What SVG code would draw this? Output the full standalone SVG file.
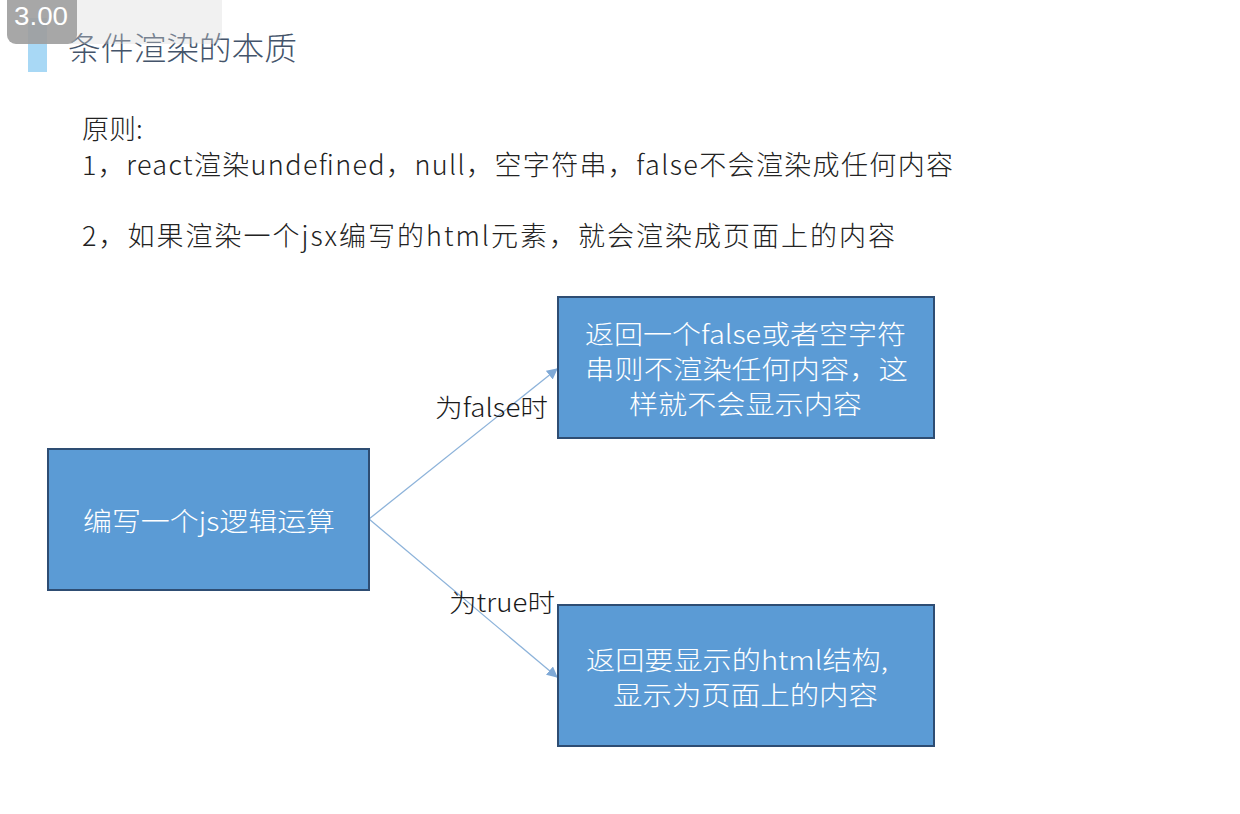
<svg xmlns="http://www.w3.org/2000/svg" width="1240" height="814" viewBox="0 0 1240 814">
  <style>
    .cn { font-family: "Noto Sans CJK SC", "Noto Sans", sans-serif; font-weight: 300; }
    .body { font-size: 27px; fill: #222222; }
    .box { fill: #5b9bd5; stroke: #2e4d73; stroke-width: 2; }
    .boxtext { font-size: 26px; fill: #ffffff; }
    .label { font-size: 25px; fill: #1a1a1a; }
    .link { stroke: #8db3da; stroke-width: 1.3; fill: none; }
  </style>
  <defs>
    <marker id="arrow" viewBox="0 0 10 10" refX="9" refY="5" markerWidth="11" markerHeight="11" markerUnits="userSpaceOnUse" orient="auto">
      <path d="M0,0 L10,5 L0,10 z" fill="#7fa9d6"/>
    </marker>
  </defs>

  <rect width="1240" height="814" fill="#ffffff"/>

  <!-- heading bar and title -->
  <rect x="28" y="18" width="19" height="54" fill="#a8d8f5"/>
  <text class="cn" x="68" y="60" font-size="32" fill="#44546a" textLength="229" lengthAdjust="spacingAndGlyphs">条件渲染的本质</text>

  <!-- speed badge -->
  <rect x="7" y="-8" width="215" height="52" rx="9" fill="#d8d8d8" opacity="0.35"/>
  <rect x="7" y="-8" width="70" height="52" rx="9" fill="#9a9a9a" opacity="0.85"/>
  <text x="14" y="25" font-family="Liberation Sans, sans-serif" font-size="25" fill="#ffffff" textLength="54" lengthAdjust="spacingAndGlyphs">3.00</text>

  <!-- principles -->
  <text class="cn body" x="82" y="139">原则:</text>
  <text class="cn body" x="82" y="175" textLength="871" lengthAdjust="spacing">1，react渲染undefined，null，空字符串，false不会渲染成任何内容</text>
  <text class="cn body" x="82" y="246" textLength="813" lengthAdjust="spacing">2，如果渲染一个jsx编写的html元素，就会渲染成页面上的内容</text>

  <!-- connectors -->
  <g id="connectors">
    <line class="link" x1="369" y1="519" x2="557" y2="369" marker-end="url(#arrow)"/>
    <line class="link" x1="369" y1="519" x2="557" y2="677" marker-end="url(#arrow)"/>
    <text class="cn label" x="435" y="417" textLength="113" lengthAdjust="spacingAndGlyphs">为false时</text>
    <text class="cn label" x="449" y="612" textLength="106" lengthAdjust="spacingAndGlyphs">为true时</text>
  </g>

  <g id="node-logic">
    <rect class="box" x="48" y="449" width="321" height="141"/>
    <text class="cn boxtext" x="83" y="531" textLength="252" lengthAdjust="spacingAndGlyphs">编写一个js逻辑运算</text>
  </g>

  <g id="node-false">
    <rect class="box" x="558" y="297" width="376" height="141"/>
    <text class="cn boxtext" x="585" y="344" textLength="321" lengthAdjust="spacingAndGlyphs">返回一个false或者空字符</text>
    <text class="cn boxtext" x="585" y="379" textLength="323" lengthAdjust="spacingAndGlyphs">串则不渲染任何内容，这</text>
    <text class="cn boxtext" x="629" y="414" textLength="233" lengthAdjust="spacingAndGlyphs">样就不会显示内容</text>
  </g>

  <g id="node-true">
    <rect class="box" x="558" y="605" width="376" height="141"/>
    <text class="cn boxtext" x="586" y="670" textLength="302" lengthAdjust="spacingAndGlyphs">返回要显示的html结构,</text>
    <text class="cn boxtext" x="613" y="705" textLength="265" lengthAdjust="spacingAndGlyphs">显示为页面上的内容</text>
  </g>
</svg>
